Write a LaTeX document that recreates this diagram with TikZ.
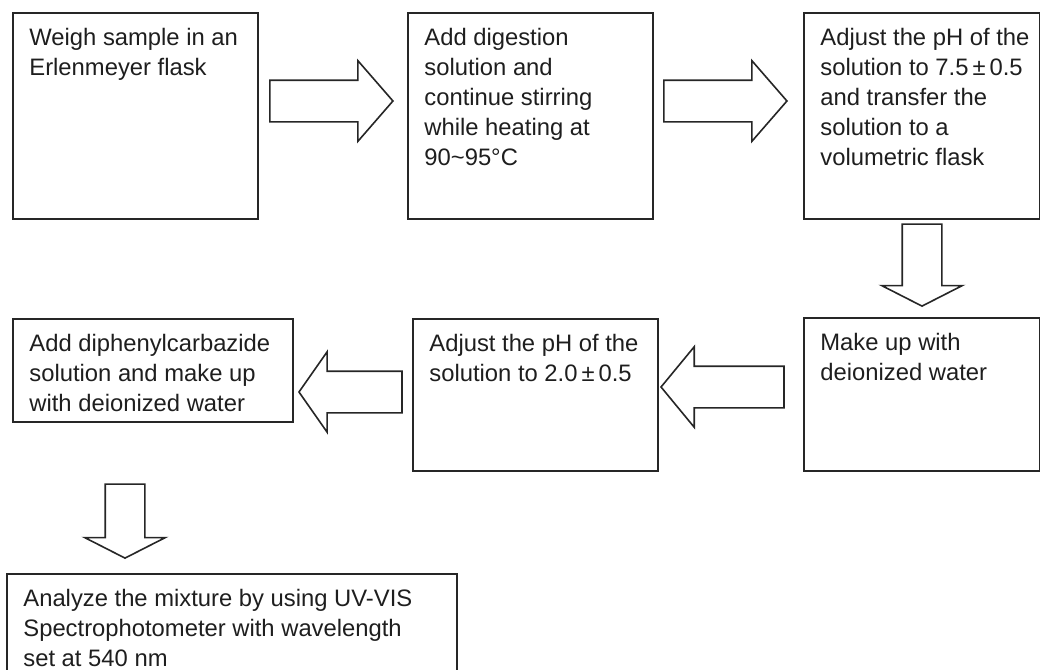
\documentclass[tikz,border=0pt]{standalone}
\usepackage{fontspec}
\setmainfont{Liberation Sans}
\usepackage{xcolor}
\usepackage{tikz}
\usetikzlibrary{shapes.arrows}
\definecolor{linegray}{HTML}{262626}
\definecolor{inkgray}{HTML}{1E1E1E}

\begin{document}
\begin{tikzpicture}[
    x=0.5pt, y=-0.5pt,
    stepbox/.style={rectangle, draw=linegray, line width=0.8pt, anchor=north west, inner sep=0pt},
    steptext/.style={anchor=north west, align=left, inner xsep=8.5pt, inner ysep=8pt, text=inkgray, font=\fontsize{11.9}{15}\selectfont},
    sidearrow/.style={single arrow, draw=linegray, line width=0.8pt, fill=white, inner sep=0pt, inner ysep=10pt, single arrow head extend=9.75pt, single arrow tip angle=#1, anchor=tip},
    downarrow/.style={single arrow, draw=linegray, line width=0.8pt, fill=white, inner sep=0pt, inner ysep=9.5pt, single arrow head extend=10.25pt, single arrow tip angle=126, rotate=-90, anchor=tip}
]
\useasboundingbox (0,0) rectangle (1040,670);

% Top row
\node[stepbox, minimum width=122.5pt, minimum height=103pt,
      label={[steptext]north west:{Weigh sample in an\\Erlenmeyer flask}}] (weigh) at (12,12) {};
\node[stepbox, minimum width=122.5pt, minimum height=103pt,
      label={[steptext]north west:{Add digestion\\solution and\\continue stirring\\while heating at\\90\textasciitilde95°C}}] (digest) at (407,12) {};
\node[stepbox, minimum width=118pt, minimum height=103pt,
      label={[steptext]north west:{Adjust the pH of the\\solution to 7.5\,±\,0.5\\and transfer the\\solution to a\\volumetric flask}}] (phup) at (803,12) {};

\node[sidearrow=98, minimum height=61.5pt] (weigh2digest) at (394,101) {};
\node[sidearrow=98, minimum height=61.5pt] (digest2phup) at (788,101) {};

% Down to the second row
\node[downarrow, minimum height=41pt] (phup2makeup) at (922,307) {};

% Second row
\node[stepbox, minimum width=118pt, minimum height=76.5pt,
      label={[steptext]north west:{Make up with\\deionized water}}] (makeup) at (803,317) {};
\node[stepbox, minimum width=122.5pt, minimum height=76pt,
      label={[steptext]north west:{Adjust the pH of the\\solution to 2.0\,±\,0.5}}] (phdown) at (412,318) {};
\node[stepbox, minimum width=140pt, minimum height=51.5pt,
      label={[steptext]north west:{Add diphenylcarbazide\\solution and make up\\with deionized water}}] (dpc) at (12,318) {};

\node[sidearrow=101, rotate=180, minimum height=61.5pt] (makeup2phdown) at (660,387) {};
\node[sidearrow=110, rotate=180, minimum height=51.5pt] (phdown2dpc) at (298,392) {};

% Down to the analysis
\node[downarrow, minimum height=37pt] (dpc2analyze) at (125,559) {};

\node[stepbox, minimum width=225pt, minimum height=63.5pt,
      label={[steptext]north west:{Analyze the mixture by using UV-VIS\\Spectrophotometer with wavelength\\set at 540 nm}}] (analyze) at (6,573) {};

\end{tikzpicture}
\end{document}
